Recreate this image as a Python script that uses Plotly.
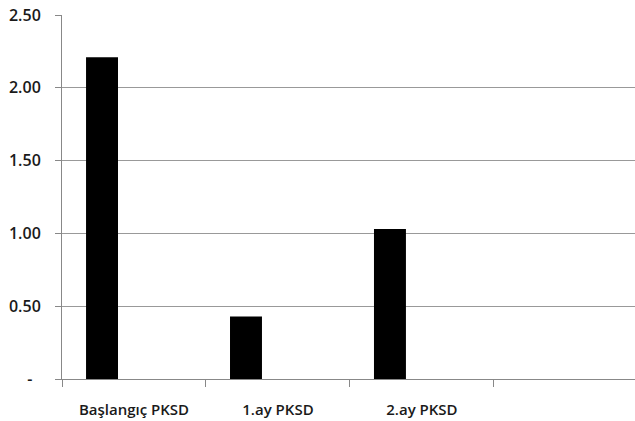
import plotly.graph_objects as go

categories = ["Başlangıç PKSD", "1.ay PKSD", "2.ay PKSD"]
values = [2.21, 0.43, 1.03]
y_tickvals = [0, 0.5, 1.0, 1.5, 2.0, 2.5]
y_ticktext = ["-\u00a0\u00a0", "0.50", "1.00", "1.50", "2.00", "2.50"]

fig = go.Figure(
    go.Bar(
        x=categories,
        y=values,
        width=0.222,
        offset=-0.333,
        marker=dict(color="black", line=dict(width=0)),
    )
)

fig.update_layout(
    width=635,
    height=421,
    margin=dict(l=62, r=0, t=15, b=42),
    paper_bgcolor="white",
    plot_bgcolor="white",
    showlegend=False,
    font=dict(family="Open Sans", color="#1a1a1a"),
)

fig.update_xaxes(
    type="category",
    range=[-0.5, 3.48],
    tickson="boundaries",
    ticks="outside",
    ticklen=7,
    tickcolor="#888888",
    showline=True,
    linecolor="#888888",
    linewidth=1,
    showgrid=False,
    ticklabelstandoff=17,
    tickfont=dict(size=15, weight=600),
)

fig.update_yaxes(
    range=[0, 2.5],
    tickvals=y_tickvals,
    ticktext=y_ticktext,
    ticks="outside",
    ticklen=6,
    tickcolor="#888888",
    showline=True,
    linecolor="#888888",
    linewidth=1,
    showgrid=True,
    gridcolor="#999999",
    gridwidth=1,
    zeroline=False,
    ticklabelstandoff=11,
    ticklabeloverflow="allow",
    tickfont=dict(size=16, weight=600),
)

fig.write_html(
    "out.html",
    config={"displayModeBar": False},
    post_script="document.body.style.margin='0';document.body.style.overflow='hidden';",
)
